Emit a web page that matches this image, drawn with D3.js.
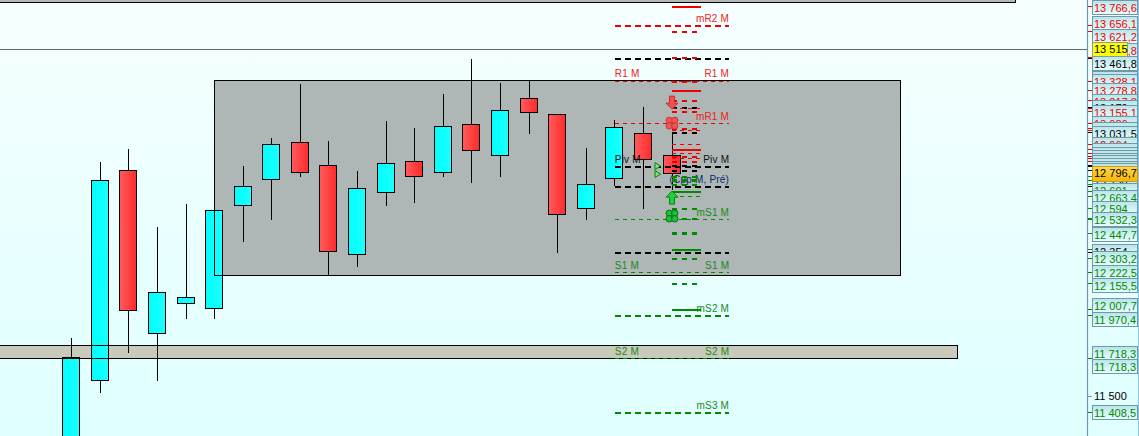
<!DOCTYPE html>
<html>
<head>
<meta charset="utf-8">
<script src="https://d3js.org/d3.v7.min.js"></script>
<style>
  html, body { margin: 0; padding: 0; background: #f0ffff; overflow: hidden; }
  svg { display: block; }
  text { font-family: "Liberation Sans", Arial, sans-serif; }
</style>
</head>
<body>
<script>
// candles, left to right
let opens  = [11012, 11593, 12813, 11866, 12040, 12011, 12610, 12761, 12976, 12842, 12325, 12685, 12865, 12801, 13080, 12900, 13231, 13138, 12592, 12767, 13028, 12900];
let highs  = [11837, 12860, 12935, 12482, 12616, 12581, 12836, 12999, 13313, 12982, 12807, 13098, 13057, 13255, 13458, 13319, 13336, 13138, 12941, 13104, 13179, 13022];
let lows   = [10950, 11517, 11750, 11587, 11947, 11947, 12395, 12523, 12772, 12203, 12249, 12604, 12621, 12772, 12738, 12772, 13022, 12331, 12523, 12720, 12586, 12697];
let closes = [11727, 12758, 12000, 12107, 12075, 12581, 12720, 12964, 12801, 12342, 12708, 12854, 12778, 13069, 12929, 13162, 13150, 12557, 12732, 13063, 12877, 12796.7];

// monthly pivot levels, long dashes
let pivotNames  = ["mR2 M", "", "R1 M", "mR1 M", "Piv M", "(Cpp M, Pré)", "mS1 M", "", "S1 M", "mS2 M", "S2 M", "mS3 M"];
let pivotPrices = [13656.1, 13461.8, 13328.1, 13086, 12836, 12720, 12528, 12337, 12222.5, 11970.4, 11718.3, 11408.5];
let pivotKinds  = ["red", "black", "red", "red", "black", "black", "green", "black", "green", "green", "green", "green"];
let pivotWeight = ["thick", "thick", "thin", "thin", "thick", "thick", "thin", "thick", "thin", "thick", "thin", "thick"];

// short levels around the last bar
let shortPrices = [13766.6, 13621.2, 13470, 13328.1, 13278.8, 13217.8, 13179, 13173, 13155.1, 13057, 13045, 13031.5, 12964, 12935, 12912, 12894, 12883, 12865, 12842, 12813, 12778, 12755, 12732, 12691, 12663.4, 12594, 12532.3, 12447.7, 12354, 12303.2, 12155.5, 12007.7];
let shortKinds  = ["red", "red", "red", "red", "red", "red", "black", "red", "red", "red", "red", "black", "red", "red", "red", "red", "red", "red", "black", "black", "green", "green", "green", "green", "green", "green", "green", "green", "green", "green", "green", "green"];
let shortStyles = ["solid", "dash", "dash", "dash", "solid", "dash", "dash", "thin", "dash", "dash", "thin", "dash", "thin", "solid", "thin", "dash", "thin", "dash", "dash", "dash", "dash", "heavy", "dash", "solid", "thin", "dash", "dash", "heavy", "solid", "dash", "dash", "solid"];

// price boxes on the right axis, stacked in drawing order
let boxPrices = [13766.6, 13656.1, 13621.2, 13515.8, 13461.8, 13392, 13328.1, 13278.8, 13217.8, 13179, 13155.1, 13086, 13057, 13031.5, 12964, 12935, 12912, 12894, 12883, 12865, 12842, 12813, 12778, 12720, 12691, 12663.4, 12594, 12532.3, 12447.7, 12354, 12303.2, 12222.5, 12155.5, 12007.7, 11970.4, 11718.3, 11718.3, 11408.5];
let boxKinds  = ["red", "red", "red", "red", "black", "red", "red", "red", "red", "black", "red", "red", "red", "black", "red", "red", "red", "red", "red", "red", "black", "black", "green", "black", "green", "green", "green", "green", "green", "black", "green", "green", "green", "green", "green", "green", "green", "green"];
let lastPrice = 12796.7;
let crossPrice = 13515;
let roundTick = 11500;

// zones: first bar, last bar, high, low
let zoneBars = [[5, 29], [-5, 31], [-5, 33]];
let zoneHighs = [13336, 11796, 13900];
let zoneLows = [12203, 11718.3, 13789];

// signals on the last bars
let arrowPrices = [13208, 12650];
let flowerPrices = [13086, 12546];
let trianglePrices = [12836, 12790];

const width = 1139, height = 436;
const axisX = 1088;
const colors = {red: "#f00000", black: "#000000", green: "#008a00"};

// box tops come from the label stacking of the platform, they are not prices
const boxTops = [0, 16, 29, 43, 56, 71, 74, 83, 94, 100, 105, 116, 122, 126, 137, 143, 147, 150, 153, 155, 158, 161, 163, 176, 183, 190, 201, 212, 227, 244, 251, 265, 278, 298, 312, 346, 359, 405];

let x = d3.scaleLinear().domain([0, 21]).range([71.7, 672]);
let y = d3.scaleLinear().domain([11500, 13766.6]).range([396, 6]);

let locale = d3.formatLocale({decimal: ",", thousands: " ", grouping: [3], currency: ["", ""]});
let fmt1 = locale.format(",.1f"), fmt0 = locale.format(",.0f");
let fmt = function(v) { return Number.isInteger(v) ? fmt0(v) : fmt1(v); };
let px = function(v) { return Math.round(v) + 0.5; };
let colX = function(v) { return Math.floor(v) + 0.5; };

let svg = d3.select("body").append("svg").attr("width", width).attr("height", height);

let defs = svg.append("defs");
function gradient(id, c1, c2, vertical) {
  let g = defs.append("linearGradient").attr("id", id)
    .attr("x1", 0).attr("y1", 0).attr("x2", vertical ? 0 : 1).attr("y2", vertical ? 1 : 0);
  g.append("stop").attr("offset", 0).attr("stop-color", c1);
  g.append("stop").attr("offset", 1).attr("stop-color", c2);
}
gradient("bg", "#f6ffff", "#dfffff", true);
gradient("up", "#00ffff", "#1cffff", false);
gradient("down", "#ff5c5c", "#ff2a2a", false);
gradient("box", "#b9e4e8", "#e9ffff", true);
gradient("gold", "#ffd750", "#f7b500", true);

svg.append("rect").attr("width", width).attr("height", height).attr("fill", "url(#bg)");

// zone fills go under the candles, their outlines over them
let zoneFills = ["#aeb6b6", "#c8cabb", "#b4b8b8"];
zoneBars.forEach(function(b, i) {
  svg.append("rect")
    .attr("x", colX(x(b[0]))).attr("y", y(zoneHighs[i]))
    .attr("width", colX(x(b[1])) - colX(x(b[0]))).attr("height", y(zoneLows[i]) - y(zoneHighs[i]))
    .attr("fill", zoneFills[i]);
});

svg.append("line")
  .attr("x1", 0).attr("x2", axisX)
  .attr("y1", px(y(crossPrice))).attr("y2", px(y(crossPrice)))
  .attr("stroke", "#666").attr("shape-rendering", "crispEdges");

let candles = svg.selectAll("g.candle").data(d3.range(opens.length)).enter().append("g").attr("class", "candle")
  .attr("shape-rendering", "crispEdges");

candles.append("line")
  .attr("x1", function(i) { return colX(x(i)); })
  .attr("x2", function(i) { return colX(x(i)); })
  .attr("y1", function(i) { return y(highs[i]); })
  .attr("y2", function(i) { return y(lows[i]); })
  .attr("stroke", "#000");

candles.append("rect")
  .attr("x", function(i) { return colX(x(i)) - 9; })
  .attr("width", 17)
  .attr("y", function(i) { return px(y(Math.max(opens[i], closes[i]))); })
  .attr("height", function(i) { return Math.round(Math.abs(y(opens[i]) - y(closes[i]))); })
  .attr("fill", function(i) { return closes[i] >= opens[i] ? "url(#up)" : "url(#down)"; })
  .attr("stroke", "#000");

zoneBars.forEach(function(b, i) {
  svg.append("rect")
    .attr("x", colX(x(b[0]))).attr("y", px(y(zoneHighs[i])))
    .attr("width", colX(x(b[1])) - colX(x(b[0]))).attr("height", Math.round(y(zoneLows[i]) - y(zoneHighs[i])))
    .attr("fill", "none").attr("stroke", "#000").attr("shape-rendering", "crispEdges");
});

// long pivot lines, bar 19 to bar 23
let pivots = svg.selectAll("g.pivot").data(pivotPrices).enter().append("g").attr("class", "pivot");

pivots.append("line")
  .attr("x1", x(19)).attr("x2", x(23))
  .attr("y1", function(d) { return Math.round(y(d)) + 0.5; })
  .attr("y2", function(d) { return Math.round(y(d)) + 0.5; })
  .attr("stroke", function(d, i) { return colors[pivotKinds[i]]; })
  .attr("stroke-width", function(d, i) { return pivotWeight[i] == "thick" ? 2 : 1; })
  .attr("stroke-dasharray", function(d, i) { return pivotWeight[i] == "thick" ? "6.5 3.5" : "4 4"; })
  .attr("shape-rendering", "crispEdges");

let textColor = {red: "#f02020", black: "#101010", green: "#178a17"};
// R1 sits a little higher over its line
let labelY = function(d) { return Math.round(y(d)) - (d == 13328.1 ? 4 : 3); };

pivots.append("text")
  .attr("x", x(23))
  .attr("y", labelY)
  .attr("text-anchor", "end")
  .attr("font-size", 10)
  .attr("letter-spacing", 0.2)
  .attr("fill", function(d, i) { return pivotNames[i].charAt(0) == "(" ? "#0a2a6a" : textColor[pivotKinds[i]]; })
  .text(function(d, i) { return pivotNames[i]; });

// the plain names are repeated at the left end of the line
pivots.filter(function(d, i) { return ["R1 M", "Piv M", "S1 M", "S2 M"].indexOf(pivotNames[i]) >= 0; })
  .append("text")
  .attr("x", x(19))
  .attr("y", labelY)
  .attr("font-size", 10)
  .attr("letter-spacing", 0.2)
  .attr("fill", function(d) { return textColor[pivotKinds[pivotPrices.indexOf(d)]]; })
  .text(function(d) { return pivotNames[pivotPrices.indexOf(d)]; });

// short levels, bar 21 to bar 22
let shortLines = svg.selectAll("line.short").data(shortPrices).enter().append("line").attr("class", "short")
  .attr("x1", x(21))
  .attr("x2", function(d, i) { return shortStyles[i] == "dash" || shortStyles[i] == "heavy" ? x(21) + 25 : x(22); })
  .attr("y1", function(d) { return Math.round(y(d)) + 0.5; })
  .attr("y2", function(d) { return Math.round(y(d)) + 0.5; })
  .attr("stroke", function(d, i) { return colors[shortKinds[i]]; })
  .attr("stroke-width", function(d, i) {
    let s = shortStyles[i];
    return s == "thin" ? 1 : s == "heavy" ? 3 : 2;
  })
  .attr("stroke-dasharray", function(d, i) {
    let s = shortStyles[i];
    return s == "solid" ? null : s == "thin" ? "4 4" : "5 5";
  })
  .attr("shape-rendering", "crispEdges");

// arrows
let arrowShape = "M-2.5,-6L2.5,-6L2.5,1L6,1L0,7L-6,1L-2.5,1Z";
svg.selectAll("path.arrow").data(arrowPrices).enter().append("path").attr("class", "arrow")
  .attr("d", arrowShape)
  .attr("transform", function(d, i) { return "translate(" + x(21) + " " + y(d) + ")" + (i == 1 ? " scale(1 -1)" : ""); })
  .attr("fill", function(d, i) { return i == 0 ? "#f25050" : "#22cc44"; })
  .attr("stroke", function(d, i) { return i == 0 ? "#c83030" : "#008a00"; });

// flowers
flowerPrices.forEach(function(p, i) {
  let g = svg.append("g").attr("transform", "translate(" + x(21) + " " + y(p) + ")");
  [[-2.8, -2.8], [2.8, -2.8], [-2.8, 2.8], [2.8, 2.8]].forEach(function(o) {
    g.append("circle").attr("cx", o[0]).attr("cy", o[1]).attr("r", 3.2)
      .attr("fill", i == 0 ? "#ee5555" : "#22bb44")
      .attr("stroke", i == 0 ? "#d03838" : "#007a00");
  });
});

// small triangles in front of the last bar
svg.selectAll("path.tri").data(trianglePrices).enter().append("path").attr("class", "tri")
  .attr("d", "M-2.5,-3.5L3,0L-2.5,3.5Z")
  .attr("transform", function(d) { return "translate(" + (x(21) - 14.5) + " " + y(d) + ")"; })
  .attr("fill", "#7fe07f").attr("stroke", "#008a00");

// right axis
svg.append("rect").attr("x", axisX).attr("y", 0).attr("width", width - axisX).attr("height", height).attr("fill", "url(#bg)");
svg.append("rect").attr("x", width - 1).attr("y", 0).attr("width", 1).attr("height", height).attr("fill", "#8cc6e6");
svg.append("line").attr("x1", axisX - 0.5).attr("x2", axisX - 0.5).attr("y1", 0).attr("y2", height)
  .attr("stroke", "#7596a8").attr("stroke-width", 1.2);

let tickPrices = pivotPrices.concat(shortPrices);
let tickKinds = pivotKinds.concat(shortKinds);
svg.selectAll("line.tick").data(tickPrices).enter().append("line").attr("class", "tick")
  .attr("x1", axisX).attr("x2", axisX + 4)
  .attr("y1", function(d) { return Math.round(y(d)) + 0.5; })
  .attr("y2", function(d) { return Math.round(y(d)) + 0.5; })
  .attr("stroke", function(d, i) { return colors[tickKinds[i]]; })
  .attr("shape-rendering", "crispEdges");

let boxes = svg.selectAll("g.box").data(boxPrices).enter().append("g").attr("class", "box")
  .attr("transform", function(d, i) { return "translate(1092 " + boxTops[i] + ")"; });
boxes.append("rect")
  .attr("x", 0.5).attr("y", 0.5).attr("width", 45).attr("height", 14)
  .attr("fill", "url(#box)").attr("stroke", "#6f99a8")
  .attr("shape-rendering", "crispEdges");
boxes.append("text")
  .attr("x", 2).attr("y", 11.5)
  .attr("font-size", 11)
  .attr("fill", function(d, i) { return colors[boxKinds[i]]; })
  .text(function(d) { return fmt(d); });

// round number on the scale has no box
svg.append("line")
  .attr("x1", axisX).attr("x2", axisX + 4)
  .attr("y1", px(y(roundTick))).attr("y2", px(y(roundTick)))
  .attr("stroke", "#7596a8").attr("shape-rendering", "crispEdges");
svg.append("text")
  .attr("x", 1094).attr("y", y(roundTick) + 4)
  .attr("font-size", 11).attr("fill", "#000")
  .text(fmt(roundTick));

// crosshair price
svg.append("rect")
  .attr("x", 1092.5).attr("y", px(y(crossPrice)) - 7).attr("width", 35).attr("height", 14)
  .attr("fill", "#ffff00").attr("stroke", "#8a9a9a").attr("shape-rendering", "crispEdges");
svg.append("text")
  .attr("x", 1094).attr("y", y(crossPrice) + 4)
  .attr("font-size", 11).attr("fill", "#000")
  .text(fmt(crossPrice));

// last price
svg.append("rect")
  .attr("x", 1092.5).attr("y", px(y(lastPrice)) - 7).attr("width", 45).attr("height", 15)
  .attr("fill", "url(#gold)").attr("stroke", "#c89a20").attr("shape-rendering", "crispEdges");
svg.append("text")
  .attr("x", 1094).attr("y", y(lastPrice) + 4.5)
  .attr("font-size", 11).attr("fill", "#000")
  .text(fmt(lastPrice));
</script>
</body>
</html>
